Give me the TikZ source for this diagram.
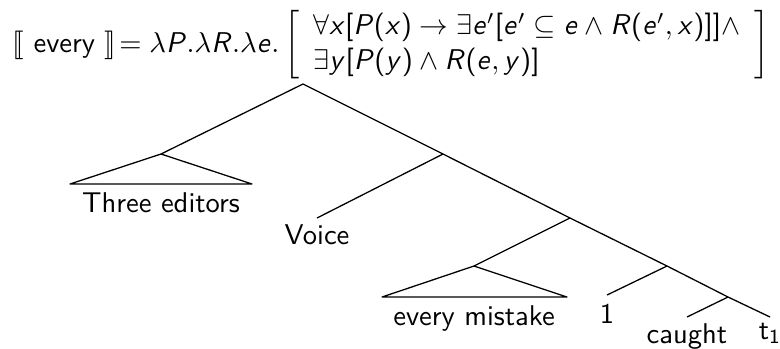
\documentclass[tikz,border=0pt]{standalone}
\usepackage{amsmath}
\usepackage{stmaryrd}
\usetikzlibrary{positioning}
% sans serif math, letters in slanted sans, Greek kept
\DeclareSymbolFont{operators}{OT1}{cmss}{m}{n}
\DeclareSymbolFont{sfletters}{OT1}{cmss}{m}{sl}
\DeclareMathSymbol{P}{\mathalpha}{sfletters}{`P}
\DeclareMathSymbol{R}{\mathalpha}{sfletters}{`R}
\DeclareMathSymbol{e}{\mathalpha}{sfletters}{`e}
\DeclareMathSymbol{x}{\mathalpha}{sfletters}{`x}
\DeclareMathSymbol{y}{\mathalpha}{sfletters}{`y}
\tikzset{
  branch/.style={line width=0.45pt,line join=round},
  leaf/.style={anchor=north,inner sep=2pt,font=\sffamily},
  denot/.style={anchor=west,inner sep=0pt,font=\sffamily}
}

\begin{document}
\begin{tikzpicture}[x=0.35pt,y=-0.35pt]
      \useasboundingbox (0,0) rectangle (780,348);
      % lexical entry
      \node[denot] (entry) at (12,45) {$\llbracket\text{ every }\rrbracket\!=\lambda P.\lambda R.\lambda e.\left[\begin{array}{l}
        \forall x[P(x)\rightarrow\exists e'[e'\subseteq e\wedge R(e',x)]]\wedge\\
        \exists y[P(y)\wedge R(e,y)]
      \end{array}\right]$};
      % branching points
      \coordinate (root) at (303,84);
      \coordinate (subj) at (161,154);
      \coordinate (vp) at (443,154);
      \coordinate (rel) at (570,218);
      \coordinate (obj) at (474,266);
      \coordinate (lam) at (667,266);
      \coordinate (vbar) at (728,297);
      % triangle corners
      \coordinate (subjL) at (70,184);
      \coordinate (subjR) at (252,184);
      \coordinate (objL) at (382,297);
      \coordinate (objR) at (567,297);
      % leaves
      \node[leaf,inner sep=3pt] (three) at (161,184) {Three editors};
      \node[leaf] (voice) at (317,218) {Voice};
      \node[leaf,inner sep=3pt] (mistake) at (474,297) {every mistake};
      \node[leaf,inner sep=3pt] (one) at (607,295) {1};
      \node[leaf] (caught) at (687,317) {caught};
      \node[leaf] (trace) at (770,317) {t$_1$};
      % branches
      \draw[branch] (root) -- (subj);
      \draw[branch] (root) -- (vp);
      \draw[branch] (subj) -- (subjL) -- (subjR) -- cycle;
      \draw[branch] (vp) -- (voice.north);
      \draw[branch] (vp) -- (rel);
      \draw[branch] (rel) -- (obj);
      \draw[branch] (obj) -- (objL) -- (objR) -- cycle;
      \draw[branch] (rel) -- (lam);
      \draw[branch] (lam) -- (one.north);
      \draw[branch] (lam) -- (vbar);
      \draw[branch] (vbar) -- (caught.north);
      \draw[branch] (vbar) -- (trace.north);
    \end{tikzpicture}
\end{document}
